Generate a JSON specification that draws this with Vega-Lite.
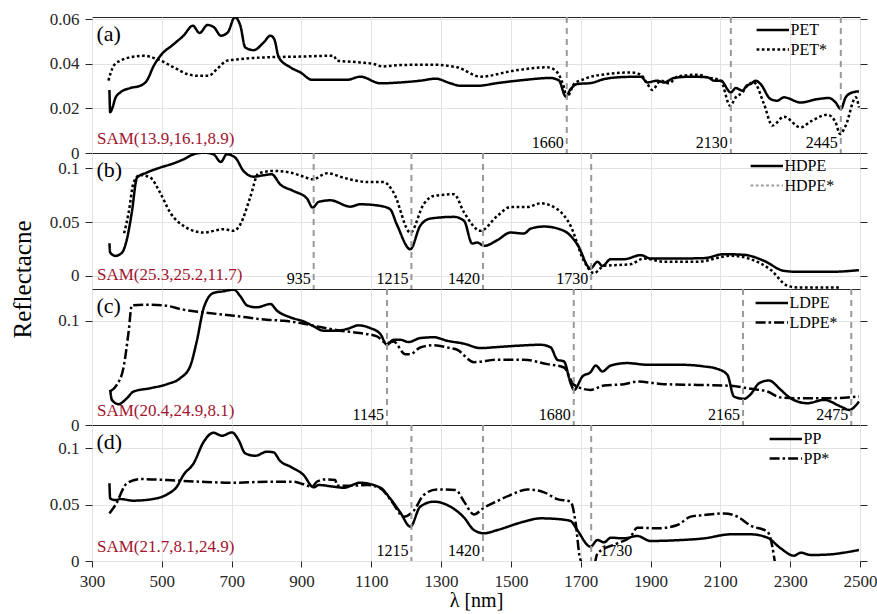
{
  "$schema": "https://vega.github.io/schema/vega-lite/v6.json",
  "background": "white",
  "padding": {"left": 9, "top": 9, "right": 0, "bottom": 0},
  "bounds": "flush",
  "spacing": 0,
  "resolve": {"scale": {"x": "independent", "y": "independent", "strokeDash": "independent"}, "axis": {"x": "independent", "y": "independent"}, "legend": {"strokeDash": "independent"}},
  "config": {
    "font": "Liberation Serif",
    "view": {"stroke": "#262626", "strokeWidth": 1},
    "axis": {"labelFont": "Liberation Serif", "labelFontSize": 17, "labelColor": "#262626", "tickColor": "#262626", "tickSize": 7, "labelPadding": 6, "gridColor": "#e3e3e3", "gridWidth": 1, "domain": false, "labelFlush": false, "labelOverlap": false, "titleFont": "Liberation Serif", "titleFontWeight": "normal", "titleColor": "#000000"},
    "legend": {"labelFont": "Liberation Serif", "labelFontSize": 16, "labelColor": "#000000", "symbolSize": 36, "symbolStrokeWidth": 2.5, "symbolStrokeColor": "#000000", "labelOffset": 1, "rowPadding": 3.5, "padding": 0},
    "text": {"font": "Liberation Serif", "color": "#000000"}
  },
  "datasets": {
    "a": [
      {"s":"PET","nm":350,"r":0.0283},{"s":"PET","nm":352,"r":0.0183},{"s":"PET","nm":359,"r":0.0205},{"s":"PET","nm":367,"r":0.0247},{"s":"PET","nm":381,"r":0.0272},{"s":"PET","nm":410,"r":0.0292},{"s":"PET","nm":438,"r":0.0302},{"s":"PET","nm":457,"r":0.0325},{"s":"PET","nm":477,"r":0.0392},{"s":"PET","nm":496,"r":0.0437},{"s":"PET","nm":534,"r":0.0489},{"s":"PET","nm":562,"r":0.0527},{"s":"PET","nm":589,"r":0.0572},{"s":"PET","nm":608,"r":0.0539},{"s":"PET","nm":631,"r":0.0575},{"s":"PET","nm":650,"r":0.0564},{"s":"PET","nm":669,"r":0.0527},{"s":"PET","nm":689,"r":0.0542},{"s":"PET","nm":709,"r":0.0610},{"s":"PET","nm":725,"r":0.0572},{"s":"PET","nm":739,"r":0.0474},{"s":"PET","nm":763,"r":0.0462},{"s":"PET","nm":792,"r":0.0497},{"s":"PET","nm":811,"r":0.0527},{"s":"PET","nm":822,"r":0.0512},{"s":"PET","nm":835,"r":0.0430},{"s":"PET","nm":868,"r":0.0385},{"s":"PET","nm":897,"r":0.0362},{"s":"PET","nm":930,"r":0.0329},{"s":"PET","nm":992,"r":0.0329},{"s":"PET","nm":1031,"r":0.0329},{"s":"PET","nm":1069,"r":0.0343},{"s":"PET","nm":1126,"r":0.0313},{"s":"PET","nm":1183,"r":0.0317},{"s":"PET","nm":1241,"r":0.0325},{"s":"PET","nm":1284,"r":0.0334},{"s":"PET","nm":1327,"r":0.0313},{"s":"PET","nm":1356,"r":0.0302},{"s":"PET","nm":1404,"r":0.0302},{"s":"PET","nm":1461,"r":0.0314},{"s":"PET","nm":1537,"r":0.0328},{"s":"PET","nm":1614,"r":0.0337},{"s":"PET","nm":1638,"r":0.0325},{"s":"PET","nm":1657,"r":0.0254},{"s":"PET","nm":1671,"r":0.0287},{"s":"PET","nm":1690,"r":0.0310},{"s":"PET","nm":1728,"r":0.0314},{"s":"PET","nm":1767,"r":0.0332},{"s":"PET","nm":1805,"r":0.0340},{"s":"PET","nm":1872,"r":0.0343},{"s":"PET","nm":1891,"r":0.0317},{"s":"PET","nm":1919,"r":0.0325},{"s":"PET","nm":1939,"r":0.0317},{"s":"PET","nm":1967,"r":0.0337},{"s":"PET","nm":2015,"r":0.0343},{"s":"PET","nm":2063,"r":0.0340},{"s":"PET","nm":2082,"r":0.0325},{"s":"PET","nm":2101,"r":0.0325},{"s":"PET","nm":2130,"r":0.0272},{"s":"PET","nm":2144,"r":0.0292},{"s":"PET","nm":2163,"r":0.0280},{"s":"PET","nm":2175,"r":0.0302},{"s":"PET","nm":2187,"r":0.0310},{"s":"PET","nm":2201,"r":0.0325},{"s":"PET","nm":2215,"r":0.0310},{"s":"PET","nm":2244,"r":0.0242},{"s":"PET","nm":2263,"r":0.0235},{"s":"PET","nm":2282,"r":0.0250},{"s":"PET","nm":2330,"r":0.0227},{"s":"PET","nm":2378,"r":0.0242},{"s":"PET","nm":2411,"r":0.0247},{"s":"PET","nm":2430,"r":0.0227},{"s":"PET","nm":2445,"r":0.0197},{"s":"PET","nm":2459,"r":0.0250},{"s":"PET","nm":2478,"r":0.0272},{"s":"PET","nm":2497,"r":0.0277},
      {"s":"PET*","nm":347,"r":0.0325},{"s":"PET*","nm":362,"r":0.0392},{"s":"PET*","nm":381,"r":0.0415},{"s":"PET*","nm":410,"r":0.0430},{"s":"PET*","nm":448,"r":0.0437},{"s":"PET*","nm":486,"r":0.0422},{"s":"PET*","nm":534,"r":0.0385},{"s":"PET*","nm":572,"r":0.0355},{"s":"PET*","nm":601,"r":0.0347},{"s":"PET*","nm":634,"r":0.0347},{"s":"PET*","nm":658,"r":0.0377},{"s":"PET*","nm":687,"r":0.0415},{"s":"PET*","nm":725,"r":0.0422},{"s":"PET*","nm":801,"r":0.0430},{"s":"PET*","nm":897,"r":0.0433},{"s":"PET*","nm":992,"r":0.0437},{"s":"PET*","nm":1002,"r":0.0415},{"s":"PET*","nm":1069,"r":0.0407},{"s":"PET*","nm":1107,"r":0.0400},{"s":"PET*","nm":1131,"r":0.0389},{"s":"PET*","nm":1183,"r":0.0395},{"s":"PET*","nm":1270,"r":0.0397},{"s":"PET*","nm":1346,"r":0.0385},{"s":"PET*","nm":1413,"r":0.0343},{"s":"PET*","nm":1509,"r":0.0370},{"s":"PET*","nm":1604,"r":0.0385},{"s":"PET*","nm":1628,"r":0.0370},{"s":"PET*","nm":1652,"r":0.0295},{"s":"PET*","nm":1660,"r":0.0250},{"s":"PET*","nm":1681,"r":0.0310},{"s":"PET*","nm":1709,"r":0.0332},{"s":"PET*","nm":1776,"r":0.0355},{"s":"PET*","nm":1843,"r":0.0362},{"s":"PET*","nm":1872,"r":0.0352},{"s":"PET*","nm":1891,"r":0.0310},{"s":"PET*","nm":1905,"r":0.0283},{"s":"PET*","nm":1929,"r":0.0325},{"s":"PET*","nm":1953,"r":0.0313},{"s":"PET*","nm":1977,"r":0.0343},{"s":"PET*","nm":2034,"r":0.0352},{"s":"PET*","nm":2063,"r":0.0340},{"s":"PET*","nm":2101,"r":0.0325},{"s":"PET*","nm":2128,"r":0.0212},{"s":"PET*","nm":2144,"r":0.0250},{"s":"PET*","nm":2163,"r":0.0272},{"s":"PET*","nm":2177,"r":0.0302},{"s":"PET*","nm":2196,"r":0.0317},{"s":"PET*","nm":2225,"r":0.0220},{"s":"PET*","nm":2249,"r":0.0123},{"s":"PET*","nm":2282,"r":0.0163},{"s":"PET*","nm":2330,"r":0.0115},{"s":"PET*","nm":2359,"r":0.0142},{"s":"PET*","nm":2407,"r":0.0172},{"s":"PET*","nm":2430,"r":0.0138},{"s":"PET*","nm":2443,"r":0.0085},{"s":"PET*","nm":2459,"r":0.0123},{"s":"PET*","nm":2488,"r":0.0250},{"s":"PET*","nm":2497,"r":0.0205}
    ],
    "b": [
      {"s":"HDPE","nm":350,"r":0.0303},{"s":"HDPE","nm":352,"r":0.0216},{"s":"HDPE","nm":367,"r":0.0185},{"s":"HDPE","nm":386,"r":0.0216},{"s":"HDPE","nm":400,"r":0.0340},{"s":"HDPE","nm":414,"r":0.0588},{"s":"HDPE","nm":429,"r":0.0913},{"s":"HDPE","nm":457,"r":0.0960},{"s":"HDPE","nm":495,"r":0.1006},{"s":"HDPE","nm":534,"r":0.1046},{"s":"HDPE","nm":562,"r":0.1083},{"s":"HDPE","nm":591,"r":0.1130},{"s":"HDPE","nm":620,"r":0.1145},{"s":"HDPE","nm":648,"r":0.1130},{"s":"HDPE","nm":669,"r":0.1058},{"s":"HDPE","nm":686,"r":0.1130},{"s":"HDPE","nm":710,"r":0.1100},{"s":"HDPE","nm":734,"r":0.0975},{"s":"HDPE","nm":763,"r":0.0922},{"s":"HDPE","nm":791,"r":0.0935},{"s":"HDPE","nm":815,"r":0.0944},{"s":"HDPE","nm":839,"r":0.0851},{"s":"HDPE","nm":877,"r":0.0789},{"s":"HDPE","nm":916,"r":0.0718},{"s":"HDPE","nm":932,"r":0.0634},{"s":"HDPE","nm":949,"r":0.0687},{"s":"HDPE","nm":983,"r":0.0702},{"s":"HDPE","nm":1040,"r":0.0643},{"s":"HDPE","nm":1068,"r":0.0665},{"s":"HDPE","nm":1126,"r":0.0650},{"s":"HDPE","nm":1154,"r":0.0619},{"s":"HDPE","nm":1173,"r":0.0479},{"s":"HDPE","nm":1212,"r":0.0247},{"s":"HDPE","nm":1240,"r":0.0464},{"s":"HDPE","nm":1269,"r":0.0532},{"s":"HDPE","nm":1337,"r":0.0548},{"s":"HDPE","nm":1366,"r":0.0510},{"s":"HDPE","nm":1389,"r":0.0300},{"s":"HDPE","nm":1404,"r":0.0309},{"s":"HDPE","nm":1423,"r":0.0278},{"s":"HDPE","nm":1461,"r":0.0331},{"s":"HDPE","nm":1499,"r":0.0402},{"s":"HDPE","nm":1537,"r":0.0393},{"s":"HDPE","nm":1557,"r":0.0439},{"s":"HDPE","nm":1595,"r":0.0458},{"s":"HDPE","nm":1652,"r":0.0418},{"s":"HDPE","nm":1690,"r":0.0294},{"s":"HDPE","nm":1728,"r":0.0068},{"s":"HDPE","nm":1748,"r":0.0130},{"s":"HDPE","nm":1762,"r":0.0092},{"s":"HDPE","nm":1786,"r":0.0154},{"s":"HDPE","nm":1824,"r":0.0154},{"s":"HDPE","nm":1872,"r":0.0192},{"s":"HDPE","nm":1900,"r":0.0161},{"s":"HDPE","nm":1986,"r":0.0161},{"s":"HDPE","nm":2053,"r":0.0164},{"s":"HDPE","nm":2110,"r":0.0201},{"s":"HDPE","nm":2168,"r":0.0195},{"s":"HDPE","nm":2225,"r":0.0139},{"s":"HDPE","nm":2282,"r":0.0046},{"s":"HDPE","nm":2321,"r":0.0037},{"s":"HDPE","nm":2416,"r":0.0037},{"s":"HDPE","nm":2497,"r":0.0052},
      {"s":"HDPE*","nm":392,"r":0.0396},{"s":"HDPE*","nm":405,"r":0.0588},{"s":"HDPE*","nm":419,"r":0.0866},{"s":"HDPE*","nm":438,"r":0.0938},{"s":"HDPE*","nm":467,"r":0.0913},{"s":"HDPE*","nm":495,"r":0.0774},{"s":"HDPE*","nm":524,"r":0.0588},{"s":"HDPE*","nm":562,"r":0.0464},{"s":"HDPE*","nm":620,"r":0.0402},{"s":"HDPE*","nm":677,"r":0.0433},{"s":"HDPE*","nm":706,"r":0.0418},{"s":"HDPE*","nm":725,"r":0.0479},{"s":"HDPE*","nm":753,"r":0.0727},{"s":"HDPE*","nm":777,"r":0.0953},{"s":"HDPE*","nm":820,"r":0.0975},{"s":"HDPE*","nm":868,"r":0.0960},{"s":"HDPE*","nm":906,"r":0.0922},{"s":"HDPE*","nm":932,"r":0.0897},{"s":"HDPE*","nm":973,"r":0.0953},{"s":"HDPE*","nm":1030,"r":0.0904},{"s":"HDPE*","nm":1088,"r":0.0873},{"s":"HDPE*","nm":1135,"r":0.0873},{"s":"HDPE*","nm":1164,"r":0.0774},{"s":"HDPE*","nm":1212,"r":0.0402},{"s":"HDPE*","nm":1250,"r":0.0665},{"s":"HDPE*","nm":1279,"r":0.0743},{"s":"HDPE*","nm":1337,"r":0.0758},{"s":"HDPE*","nm":1366,"r":0.0588},{"s":"HDPE*","nm":1413,"r":0.0418},{"s":"HDPE*","nm":1461,"r":0.0557},{"s":"HDPE*","nm":1499,"r":0.0640},{"s":"HDPE*","nm":1547,"r":0.0640},{"s":"HDPE*","nm":1585,"r":0.0674},{"s":"HDPE*","nm":1633,"r":0.0619},{"s":"HDPE*","nm":1671,"r":0.0464},{"s":"HDPE*","nm":1709,"r":0.0139},{"s":"HDPE*","nm":1738,"r":0.0025},{"s":"HDPE*","nm":1767,"r":0.0092},{"s":"HDPE*","nm":1843,"r":0.0108},{"s":"HDPE*","nm":1881,"r":0.0161},{"s":"HDPE*","nm":1939,"r":0.0130},{"s":"HDPE*","nm":2034,"r":0.0130},{"s":"HDPE*","nm":2130,"r":0.0186},{"s":"HDPE*","nm":2187,"r":0.0154},{"s":"HDPE*","nm":2244,"r":0.0056},{"s":"HDPE*","nm":2292,"r":-0.0093},{"s":"HDPE*","nm":2321,"r":-0.0109},{"s":"HDPE*","nm":2445,"r":-0.0109}
    ],
    "c": [
      {"s":"LDPE","nm":352,"r":0.0337},{"s":"LDPE","nm":357,"r":0.0241},{"s":"LDPE","nm":376,"r":0.0200},{"s":"LDPE","nm":400,"r":0.0257},{"s":"LDPE","nm":419,"r":0.0321},{"s":"LDPE","nm":467,"r":0.0353},{"s":"LDPE","nm":515,"r":0.0392},{"s":"LDPE","nm":553,"r":0.0450},{"s":"LDPE","nm":581,"r":0.0562},{"s":"LDPE","nm":600,"r":0.0802},{"s":"LDPE","nm":620,"r":0.1123},{"s":"LDPE","nm":648,"r":0.1267},{"s":"LDPE","nm":677,"r":0.1283},{"s":"LDPE","nm":706,"r":0.1299},{"s":"LDPE","nm":725,"r":0.1235},{"s":"LDPE","nm":744,"r":0.1148},{"s":"LDPE","nm":772,"r":0.1129},{"s":"LDPE","nm":811,"r":0.1161},{"s":"LDPE","nm":830,"r":0.1097},{"s":"LDPE","nm":868,"r":0.1033},{"s":"LDPE","nm":906,"r":0.0994},{"s":"LDPE","nm":930,"r":0.0956},{"s":"LDPE","nm":963,"r":0.0905},{"s":"LDPE","nm":1002,"r":0.0905},{"s":"LDPE","nm":1030,"r":0.0921},{"s":"LDPE","nm":1064,"r":0.0956},{"s":"LDPE","nm":1097,"r":0.0930},{"s":"LDPE","nm":1126,"r":0.0873},{"s":"LDPE","nm":1145,"r":0.0770},{"s":"LDPE","nm":1164,"r":0.0818},{"s":"LDPE","nm":1183,"r":0.0818},{"s":"LDPE","nm":1207,"r":0.0796},{"s":"LDPE","nm":1240,"r":0.0834},{"s":"LDPE","nm":1279,"r":0.0842},{"s":"LDPE","nm":1318,"r":0.0808},{"s":"LDPE","nm":1366,"r":0.0780},{"s":"LDPE","nm":1413,"r":0.0738},{"s":"LDPE","nm":1461,"r":0.0748},{"s":"LDPE","nm":1537,"r":0.0764},{"s":"LDPE","nm":1585,"r":0.0770},{"s":"LDPE","nm":1614,"r":0.0744},{"s":"LDPE","nm":1633,"r":0.0626},{"s":"LDPE","nm":1652,"r":0.0610},{"s":"LDPE","nm":1671,"r":0.0401},{"s":"LDPE","nm":1681,"r":0.0337},{"s":"LDPE","nm":1705,"r":0.0466},{"s":"LDPE","nm":1728,"r":0.0507},{"s":"LDPE","nm":1743,"r":0.0571},{"s":"LDPE","nm":1762,"r":0.0514},{"s":"LDPE","nm":1786,"r":0.0571},{"s":"LDPE","nm":1833,"r":0.0594},{"s":"LDPE","nm":1891,"r":0.0578},{"s":"LDPE","nm":1986,"r":0.0578},{"s":"LDPE","nm":2053,"r":0.0562},{"s":"LDPE","nm":2091,"r":0.0539},{"s":"LDPE","nm":2120,"r":0.0482},{"s":"LDPE","nm":2139,"r":0.0273},{"s":"LDPE","nm":2168,"r":0.0251},{"s":"LDPE","nm":2187,"r":0.0296},{"s":"LDPE","nm":2211,"r":0.0401},{"s":"LDPE","nm":2239,"r":0.0427},{"s":"LDPE","nm":2273,"r":0.0337},{"s":"LDPE","nm":2301,"r":0.0257},{"s":"LDPE","nm":2349,"r":0.0209},{"s":"LDPE","nm":2397,"r":0.0241},{"s":"LDPE","nm":2445,"r":0.0177},{"s":"LDPE","nm":2469,"r":0.0145},{"s":"LDPE","nm":2497,"r":0.0225},
      {"s":"LDPE*","nm":352,"r":0.0321},{"s":"LDPE*","nm":371,"r":0.0385},{"s":"LDPE*","nm":390,"r":0.0546},{"s":"LDPE*","nm":405,"r":0.0898},{"s":"LDPE*","nm":414,"r":0.1148},{"s":"LDPE*","nm":448,"r":0.1155},{"s":"LDPE*","nm":505,"r":0.1148},{"s":"LDPE*","nm":562,"r":0.1107},{"s":"LDPE*","nm":610,"r":0.1084},{"s":"LDPE*","nm":706,"r":0.1049},{"s":"LDPE*","nm":801,"r":0.1010},{"s":"LDPE*","nm":849,"r":0.1001},{"s":"LDPE*","nm":897,"r":0.0978},{"s":"LDPE*","nm":944,"r":0.0946},{"s":"LDPE*","nm":1011,"r":0.0905},{"s":"LDPE*","nm":1068,"r":0.0882},{"s":"LDPE*","nm":1116,"r":0.0850},{"s":"LDPE*","nm":1145,"r":0.0786},{"s":"LDPE*","nm":1164,"r":0.0802},{"s":"LDPE*","nm":1197,"r":0.0680},{"s":"LDPE*","nm":1212,"r":0.0680},{"s":"LDPE*","nm":1240,"r":0.0744},{"s":"LDPE*","nm":1279,"r":0.0765},{"s":"LDPE*","nm":1326,"r":0.0738},{"s":"LDPE*","nm":1346,"r":0.0722},{"s":"LDPE*","nm":1394,"r":0.0603},{"s":"LDPE*","nm":1461,"r":0.0626},{"s":"LDPE*","nm":1537,"r":0.0626},{"s":"LDPE*","nm":1604,"r":0.0584},{"s":"LDPE*","nm":1652,"r":0.0552},{"s":"LDPE*","nm":1681,"r":0.0385},{"s":"LDPE*","nm":1728,"r":0.0337},{"s":"LDPE*","nm":1767,"r":0.0379},{"s":"LDPE*","nm":1824,"r":0.0392},{"s":"LDPE*","nm":1862,"r":0.0417},{"s":"LDPE*","nm":1939,"r":0.0392},{"s":"LDPE*","nm":2034,"r":0.0385},{"s":"LDPE*","nm":2130,"r":0.0376},{"s":"LDPE*","nm":2187,"r":0.0347},{"s":"LDPE*","nm":2235,"r":0.0321},{"s":"LDPE*","nm":2273,"r":0.0264},{"s":"LDPE*","nm":2321,"r":0.0257},{"s":"LDPE*","nm":2416,"r":0.0257},{"s":"LDPE*","nm":2497,"r":0.0273}
    ],
    "d": [
      {"s":"PP","nm":350,"r":0.0690},{"s":"PP","nm":352,"r":0.0556},{"s":"PP","nm":367,"r":0.0541},{"s":"PP","nm":381,"r":0.0550},{"s":"PP","nm":419,"r":0.0536},{"s":"PP","nm":467,"r":0.0547},{"s":"PP","nm":515,"r":0.0592},{"s":"PP","nm":543,"r":0.0660},{"s":"PP","nm":562,"r":0.0764},{"s":"PP","nm":591,"r":0.0867},{"s":"PP","nm":620,"r":0.1059},{"s":"PP","nm":648,"r":0.1139},{"s":"PP","nm":672,"r":0.1113},{"s":"PP","nm":701,"r":0.1142},{"s":"PP","nm":720,"r":0.1074},{"s":"PP","nm":739,"r":0.0956},{"s":"PP","nm":768,"r":0.0935},{"s":"PP","nm":801,"r":0.0971},{"s":"PP","nm":820,"r":0.0965},{"s":"PP","nm":839,"r":0.0888},{"s":"PP","nm":868,"r":0.0838},{"s":"PP","nm":906,"r":0.0764},{"s":"PP","nm":935,"r":0.0654},{"s":"PP","nm":949,"r":0.0675},{"s":"PP","nm":992,"r":0.0660},{"s":"PP","nm":1021,"r":0.0651},{"s":"PP","nm":1068,"r":0.0695},{"s":"PP","nm":1126,"r":0.0651},{"s":"PP","nm":1154,"r":0.0556},{"s":"PP","nm":1183,"r":0.0432},{"s":"PP","nm":1212,"r":0.0305},{"s":"PP","nm":1240,"r":0.0482},{"s":"PP","nm":1279,"r":0.0527},{"s":"PP","nm":1327,"r":0.0482},{"s":"PP","nm":1366,"r":0.0385},{"s":"PP","nm":1394,"r":0.0275},{"s":"PP","nm":1423,"r":0.0246},{"s":"PP","nm":1461,"r":0.0275},{"s":"PP","nm":1537,"r":0.0349},{"s":"PP","nm":1585,"r":0.0379},{"s":"PP","nm":1633,"r":0.0373},{"s":"PP","nm":1671,"r":0.0355},{"s":"PP","nm":1690,"r":0.0275},{"s":"PP","nm":1728,"r":0.0127},{"s":"PP","nm":1748,"r":0.0186},{"s":"PP","nm":1767,"r":0.0166},{"s":"PP","nm":1786,"r":0.0207},{"s":"PP","nm":1824,"r":0.0201},{"s":"PP","nm":1862,"r":0.0222},{"s":"PP","nm":1900,"r":0.0178},{"s":"PP","nm":1986,"r":0.0186},{"s":"PP","nm":2053,"r":0.0201},{"s":"PP","nm":2130,"r":0.0237},{"s":"PP","nm":2187,"r":0.0237},{"s":"PP","nm":2235,"r":0.0207},{"s":"PP","nm":2273,"r":0.0112},{"s":"PP","nm":2311,"r":0.0047},{"s":"PP","nm":2330,"r":0.0074},{"s":"PP","nm":2359,"r":0.0053},{"s":"PP","nm":2416,"r":0.0059},{"s":"PP","nm":2454,"r":0.0074},{"s":"PP","nm":2497,"r":0.0098},
      {"s":"PP*","nm":350,"r":0.0423},{"s":"PP*","nm":367,"r":0.0497},{"s":"PP*","nm":400,"r":0.0690},{"s":"PP*","nm":438,"r":0.0728},{"s":"PP*","nm":515,"r":0.0719},{"s":"PP*","nm":610,"r":0.0704},{"s":"PP*","nm":706,"r":0.0695},{"s":"PP*","nm":801,"r":0.0704},{"s":"PP*","nm":877,"r":0.0704},{"s":"PP*","nm":906,"r":0.0681},{"s":"PP*","nm":930,"r":0.0660},{"s":"PP*","nm":944,"r":0.0704},{"s":"PP*","nm":968,"r":0.0725},{"s":"PP*","nm":997,"r":0.0719},{"s":"PP*","nm":1002,"r":0.0669},{"s":"PP*","nm":1040,"r":0.0669},{"s":"PP*","nm":1088,"r":0.0675},{"s":"PP*","nm":1126,"r":0.0645},{"s":"PP*","nm":1159,"r":0.0527},{"s":"PP*","nm":1193,"r":0.0394},{"s":"PP*","nm":1221,"r":0.0444},{"s":"PP*","nm":1250,"r":0.0586},{"s":"PP*","nm":1288,"r":0.0636},{"s":"PP*","nm":1342,"r":0.0630},{"s":"PP*","nm":1366,"r":0.0527},{"s":"PP*","nm":1394,"r":0.0414},{"s":"PP*","nm":1423,"r":0.0474},{"s":"PP*","nm":1461,"r":0.0533},{"s":"PP*","nm":1499,"r":0.0586},{"s":"PP*","nm":1547,"r":0.0636},{"s":"PP*","nm":1595,"r":0.0610},{"s":"PP*","nm":1633,"r":0.0550},{"s":"PP*","nm":1671,"r":0.0527},{"s":"PP*","nm":1685,"r":0.0349},{"s":"PP*","nm":1698,"r":0.0024},{"s":"PP*","nm":1709,"r":-0.0030},{"s":"PP*","nm":1738,"r":-0.0030},{"s":"PP*","nm":1748,"r":0.0068},{"s":"PP*","nm":1805,"r":0.0157},{"s":"PP*","nm":1843,"r":0.0216},{"s":"PP*","nm":1862,"r":0.0296},{"s":"PP*","nm":1919,"r":0.0290},{"s":"PP*","nm":1977,"r":0.0320},{"s":"PP*","nm":2015,"r":0.0394},{"s":"PP*","nm":2053,"r":0.0408},{"s":"PP*","nm":2110,"r":0.0423},{"s":"PP*","nm":2149,"r":0.0394},{"s":"PP*","nm":2187,"r":0.0314},{"s":"PP*","nm":2235,"r":0.0260},{"s":"PP*","nm":2249,"r":0.0127},{"s":"PP*","nm":2256,"r":-0.0006},{"s":"PP*","nm":2263,"r":-0.0120}
    ],
    "va": [{"nm":1660},{"nm":2130},{"nm":2445}],
    "vb": [{"nm":935},{"nm":1215},{"nm":1420},{"nm":1730}],
    "vc": [{"nm":1145},{"nm":1680},{"nm":2165},{"nm":2475}],
    "vd": [{"nm":1215},{"nm":1420},{"nm":1730}],
    "na": [{"sam":"SAM(13.9,16.1,8.9)","lab":"(a)"}],
    "nb": [{"sam":"SAM(25.3,25.2,11.7)","lab":"(b)"}],
    "nc": [{"sam":"SAM(20.4,24.9,8.1)","lab":"(c)"}],
    "nd": [{"sam":"SAM(21.7,8.1,24.9)","lab":"(d)"}]
  },
  "vconcat": [
    {
      "width": 768, "height": 136,
      "layer": [
        {"data": {"name": "a"}, "mark": {"type": "line", "color": "#000000", "strokeWidth": 2.5, "clip": true, "interpolate": "monotone"},
         "encoding": {
           "x": {"field": "nm", "type": "quantitative", "scale": {"domain": [300, 2500], "nice": false}, "axis": {"values": [300,500,700,900,1100,1300,1500,1700,1900,2100,2300,2500], "labels": false, "ticks": false, "title": null}},
           "y": {"field": "r", "type": "quantitative", "scale": {"domain": [0, 0.0611], "nice": false, "zero": false}, "axis": {"values": [0, 0.02, 0.04, 0.06], "format": ".2~f", "title": null}},
           "strokeDash": {"field": "s", "type": "nominal", "scale": {"domain": ["PET", "PET*"], "range": [[1, 0], [2.7, 2.5]]}, "legend": {"orient": "none", "legendX": 681.5, "legendY": 5, "title": null, "symbolType": "M-8.3,0H2.5"}}
         }},
        {"data": {"name": "va"}, "mark": {"type": "rule", "color": "#999999", "strokeWidth": 2, "strokeDash": [6, 5]},
         "encoding": {"x": {"field": "nm", "type": "quantitative"}}},
        {"data": {"name": "va"}, "mark": {"type": "text", "align": "right", "baseline": "alphabetic", "dx": -3, "dy": -5.5, "fontSize": 16},
         "encoding": {"x": {"field": "nm", "type": "quantitative"}, "y": {"datum": 0, "type": "quantitative", "axis": null}, "text": {"field": "nm", "type": "nominal"}}},
        {"data": {"name": "na"}, "mark": {"type": "text", "align": "left", "baseline": "alphabetic", "dx": 5, "dy": -9, "fontSize": 17, "color": "#A2142F"},
         "encoding": {"x": {"datum": 300, "type": "quantitative"}, "y": {"datum": 0, "type": "quantitative", "axis": null}, "text": {"field": "sam"}}},
        {"data": {"name": "na"}, "mark": {"type": "text", "align": "left", "baseline": "alphabetic", "dx": 4.5, "dy": 23.5, "fontSize": 22},
         "encoding": {"x": {"datum": 300, "type": "quantitative"}, "y": {"datum": 0.0611, "type": "quantitative", "axis": {"orient": "right", "values": [0, 0.02, 0.04, 0.06], "labels": false, "grid": false, "title": null}}, "text": {"field": "lab"}}}
      ],
      "resolve": {"axis": {"y": "independent"}}
    },
    {
      "width": 768, "height": 136,
      "layer": [
        {"data": {"name": "b"}, "mark": {"type": "line", "color": "#000000", "strokeWidth": 2.5, "clip": true, "interpolate": "monotone"},
         "encoding": {
           "x": {"field": "nm", "type": "quantitative", "scale": {"domain": [300, 2500], "nice": false}, "axis": {"values": [300,500,700,900,1100,1300,1500,1700,1900,2100,2300,2500], "labels": false, "ticks": false, "title": null}},
           "y": {"field": "r", "type": "quantitative", "scale": {"domain": [-0.0123, 0.1142], "nice": false, "zero": false}, "axis": {"values": [0, 0.05, 0.1], "format": ".2~f", "title": "Reflectacne", "titleFontSize": 25, "titleX": -62, "titleY": 126, "titleBaseline": "alphabetic", "titleAlign": "center", "titleAngle": -90}},
           "strokeDash": {"field": "s", "type": "nominal", "scale": {"domain": ["HDPE", "HDPE*"], "range": [[1, 0], [2.7, 2.5]]}, "legend": {"orient": "none", "legendX": 675.5, "legendY": 5, "title": null, "symbolType": "M-8.3,0H2.5",
             "encode": {"symbols": {"update": {"stroke": {"signal": "datum.value === 'HDPE*' ? '#999999' : '#000000'"}, "strokeDash": {"signal": "datum.value === 'HDPE*' ? [6, 3.5] : [1, 0]"}, "strokeWidth": {"signal": "datum.value === 'HDPE*' ? 2 : 2.5"}}}}}}
         }},
        {"data": {"name": "vb"}, "mark": {"type": "rule", "color": "#999999", "strokeWidth": 2, "strokeDash": [6, 5]},
         "encoding": {"x": {"field": "nm", "type": "quantitative"}}},
        {"data": {"name": "vb"}, "mark": {"type": "text", "align": "right", "baseline": "alphabetic", "dx": -3, "dy": -5.5, "fontSize": 16},
         "encoding": {"x": {"field": "nm", "type": "quantitative"}, "y": {"datum": -0.0123, "type": "quantitative", "axis": null}, "text": {"field": "nm", "type": "nominal"}}},
        {"data": {"name": "nb"}, "mark": {"type": "text", "align": "left", "baseline": "alphabetic", "dx": 5, "dy": -9, "fontSize": 17, "color": "#A2142F"},
         "encoding": {"x": {"datum": 300, "type": "quantitative"}, "y": {"datum": -0.0123, "type": "quantitative", "axis": null}, "text": {"field": "sam"}}},
        {"data": {"name": "nb"}, "mark": {"type": "text", "align": "left", "baseline": "alphabetic", "dx": 4.5, "dy": 23.5, "fontSize": 22},
         "encoding": {"x": {"datum": 300, "type": "quantitative"}, "y": {"datum": 0.1142, "type": "quantitative", "axis": {"orient": "right", "values": [0, 0.05, 0.1], "labels": false, "grid": false, "title": null}}, "text": {"field": "lab"}}}
      ],
      "resolve": {"axis": {"y": "independent"}}
    },
    {
      "width": 768, "height": 136,
      "layer": [
        {"data": {"name": "c"}, "mark": {"type": "line", "color": "#000000", "strokeWidth": 2.5, "clip": true, "interpolate": "monotone"},
         "encoding": {
           "x": {"field": "nm", "type": "quantitative", "scale": {"domain": [300, 2500], "nice": false}, "axis": {"values": [300,500,700,900,1100,1300,1500,1700,1900,2100,2300,2500], "labels": false, "ticks": false, "title": null}},
           "y": {"field": "r", "type": "quantitative", "scale": {"domain": [0, 0.1305], "nice": false, "zero": false}, "axis": {"values": [0, 0.1], "format": ".2~f", "title": null}},
           "strokeDash": {"field": "s", "type": "nominal", "scale": {"domain": ["LDPE", "LDPE*"], "range": [[1, 0], [10, 3, 2.5, 3]]}, "legend": {"orient": "none", "legendX": 680.5, "legendY": 6, "title": null, "symbolType": "M-8.3,0H2.5"}}
         }},
        {"data": {"name": "vc"}, "mark": {"type": "rule", "color": "#999999", "strokeWidth": 2, "strokeDash": [6, 5]},
         "encoding": {"x": {"field": "nm", "type": "quantitative"}}},
        {"data": {"name": "vc"}, "mark": {"type": "text", "align": "right", "baseline": "alphabetic", "dx": -3, "dy": -5.5, "fontSize": 16},
         "encoding": {"x": {"field": "nm", "type": "quantitative"}, "y": {"datum": 0, "type": "quantitative", "axis": null}, "text": {"field": "nm", "type": "nominal"}}},
        {"data": {"name": "nc"}, "mark": {"type": "text", "align": "left", "baseline": "alphabetic", "dx": 5, "dy": -9, "fontSize": 17, "color": "#A2142F"},
         "encoding": {"x": {"datum": 300, "type": "quantitative"}, "y": {"datum": 0, "type": "quantitative", "axis": null}, "text": {"field": "sam"}}},
        {"data": {"name": "nc"}, "mark": {"type": "text", "align": "left", "baseline": "alphabetic", "dx": 4.5, "dy": 23.5, "fontSize": 22},
         "encoding": {"x": {"datum": 300, "type": "quantitative"}, "y": {"datum": 0.1305, "type": "quantitative", "axis": {"orient": "right", "values": [0, 0.1], "labels": false, "grid": false, "title": null}}, "text": {"field": "lab"}}}
      ],
      "resolve": {"axis": {"y": "independent"}}
    },
    {
      "width": 768, "height": 136,
      "layer": [
        {"data": {"name": "d"}, "mark": {"type": "line", "color": "#000000", "strokeWidth": 2.5, "clip": true, "interpolate": "monotone"},
         "encoding": {
           "x": {"field": "nm", "type": "quantitative", "scale": {"domain": [300, 2500], "nice": false}, "axis": {"values": [300,500,700,900,1100,1300,1500,1700,1900,2100,2300,2500], "format": "d", "labels": true, "ticks": true, "tickSize": 6, "labelPadding": 6, "title": "λ [nm]", "titleFontSize": 20, "titlePadding": 1}},
           "y": {"field": "r", "type": "quantitative", "scale": {"domain": [0, 0.1208], "nice": false, "zero": false}, "axis": {"values": [0, 0.05, 0.1], "format": ".2~f", "title": null}},
           "strokeDash": {"field": "s", "type": "nominal", "scale": {"domain": ["PP", "PP*"], "range": [[1, 0], [10, 3, 2.5, 3]]}, "legend": {"orient": "none", "legendX": 694.5, "legendY": 6, "title": null, "symbolType": "M-8.3,0H2.5"}}
         }},
        {"data": {"name": "vd"}, "mark": {"type": "rule", "color": "#999999", "strokeWidth": 2, "strokeDash": [6, 5]},
         "encoding": {"x": {"field": "nm", "type": "quantitative"}}},
        {"data": {"name": "vd"}, "transform": [{"filter": "datum.nm != 1730"}], "mark": {"type": "text", "align": "right", "baseline": "alphabetic", "dx": -3, "dy": -5.5, "fontSize": 16},
         "encoding": {"x": {"field": "nm", "type": "quantitative"}, "y": {"datum": 0, "type": "quantitative", "axis": null}, "text": {"field": "nm", "type": "nominal"}}},
        {"data": {"name": "vd"}, "transform": [{"filter": "datum.nm == 1730"}], "mark": {"type": "text", "align": "left", "baseline": "alphabetic", "dx": 9, "dy": -5.5, "fontSize": 16},
         "encoding": {"x": {"field": "nm", "type": "quantitative"}, "y": {"datum": 0, "type": "quantitative", "axis": null}, "text": {"field": "nm", "type": "nominal"}}},
        {"data": {"name": "nd"}, "mark": {"type": "text", "align": "left", "baseline": "alphabetic", "dx": 5, "dy": -9, "fontSize": 17, "color": "#A2142F"},
         "encoding": {"x": {"datum": 300, "type": "quantitative"}, "y": {"datum": 0, "type": "quantitative", "axis": null}, "text": {"field": "sam"}}},
        {"data": {"name": "nd"}, "mark": {"type": "text", "align": "left", "baseline": "alphabetic", "dx": 4.5, "dy": 23.5, "fontSize": 22},
         "encoding": {"x": {"datum": 300, "type": "quantitative"}, "y": {"datum": 0.1208, "type": "quantitative", "axis": {"orient": "right", "values": [0, 0.05, 0.1], "labels": false, "grid": false, "title": null}}, "text": {"field": "lab"}}}
      ],
      "resolve": {"axis": {"y": "independent"}}
    }
  ]
}
